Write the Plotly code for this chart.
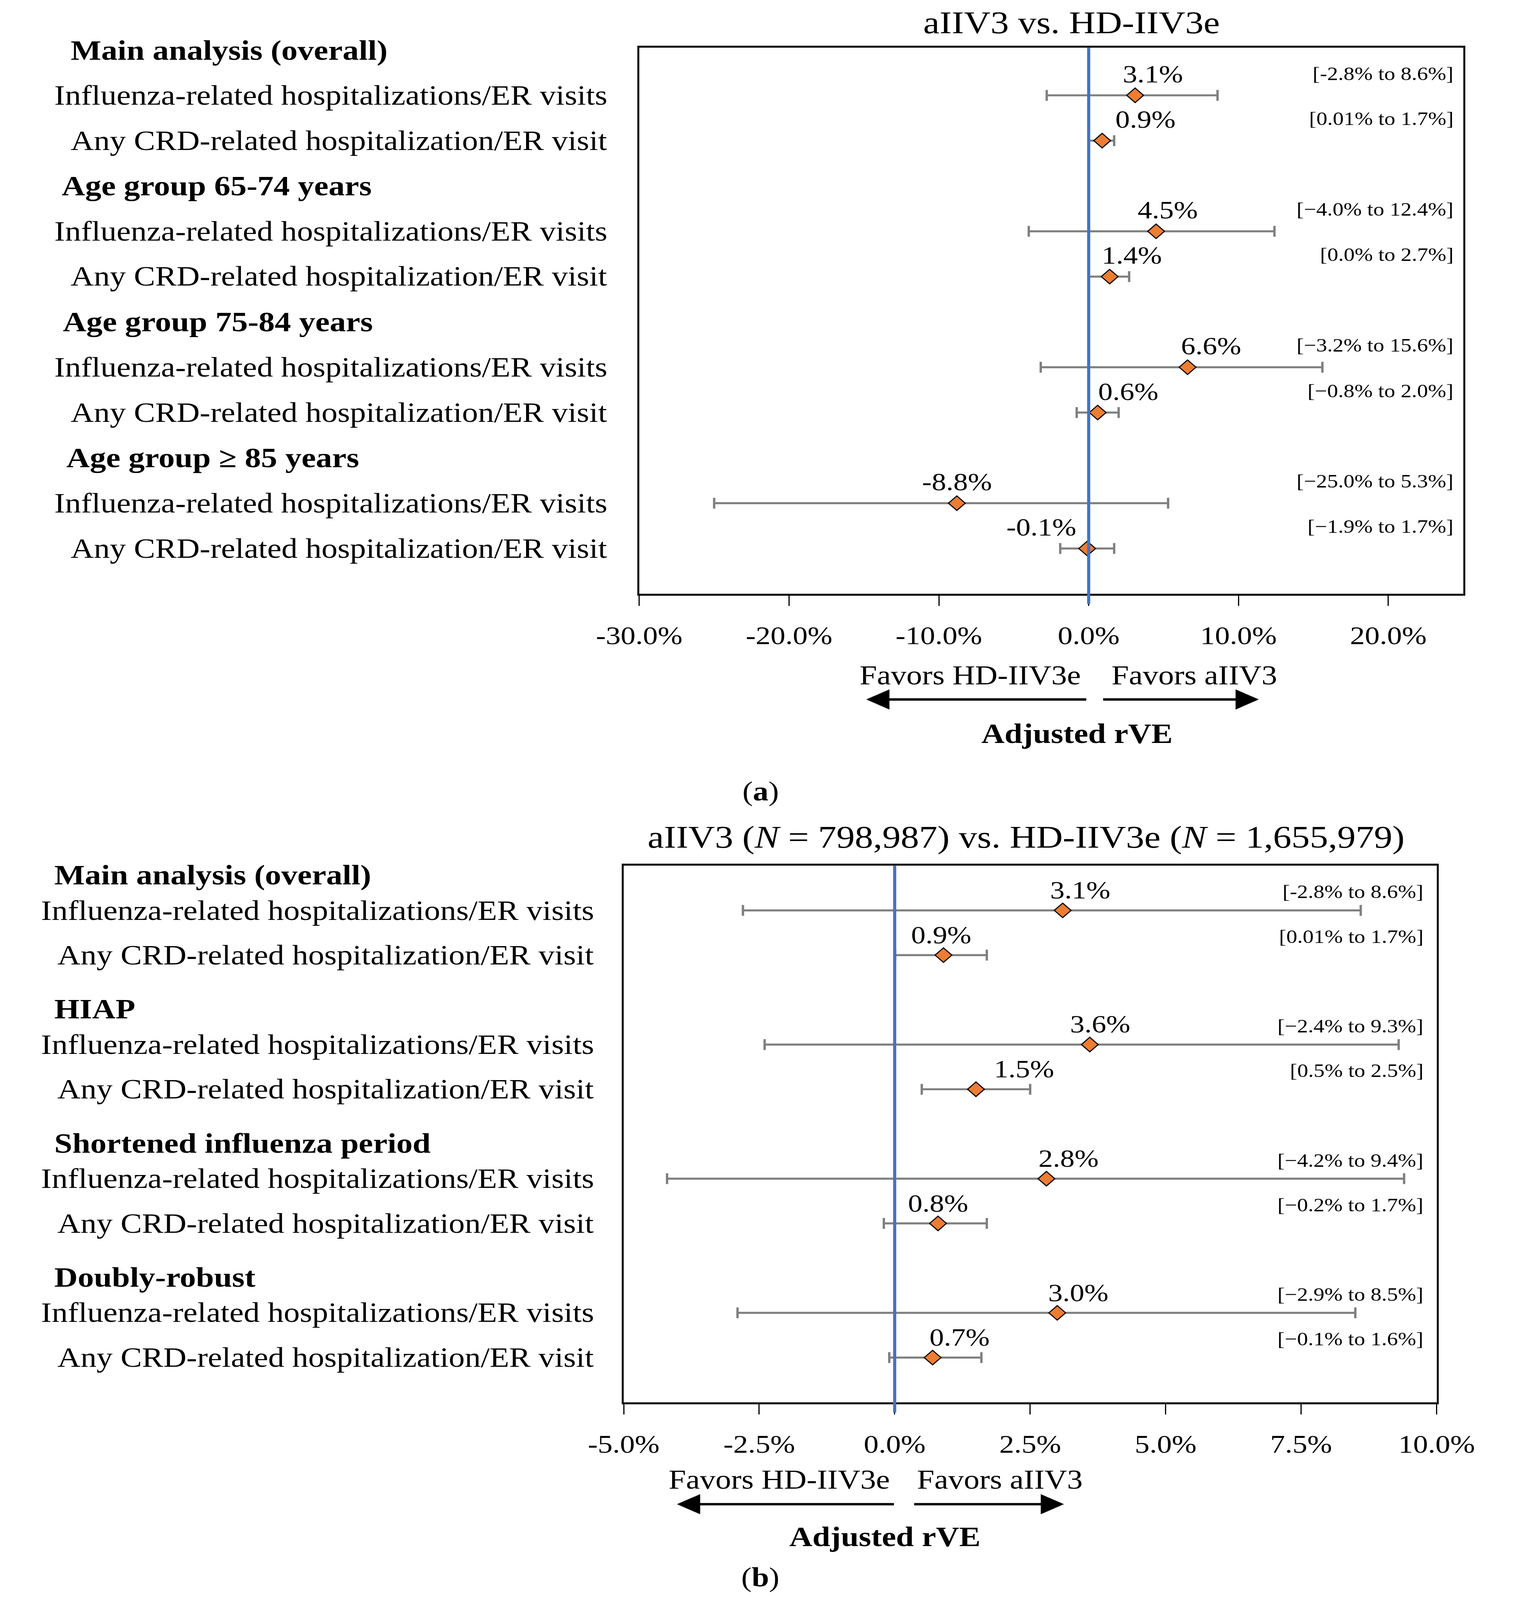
import plotly.graph_objects as go

W, H = 3910, 4726
FONT = "Liberation Serif"

# ---------------- data ----------------
outcomes = ["Influenza-related hospitalizations/ER visits",
            "Any CRD-related hospitalization/ER visit"]

a_title = "aIIV3 vs. HD-IIV3e"
a_headings = ["Main analysis (overall)", "Age group 65-74 years",
              "Age group 75-84 years", "Age group \u2265 85 years"]
a_est = [3.1, 0.9, 4.5, 1.4, 6.6, 0.6, -8.8, -0.1]
a_lo = [-2.8, 0.01, -4.0, 0.0, -3.2, -0.8, -25.0, -1.9]
a_hi = [8.6, 1.7, 12.4, 2.7, 15.6, 2.0, 5.3, 1.7]
a_ci_text = ["[-2.8% to 8.6%]", "[0.01% to 1.7%]", "[\u22124.0% to 12.4%]", "[0.0% to 2.7%]",
             "[\u22123.2% to 15.6%]", "[\u22120.8% to 2.0%]", "[\u221225.0% to 5.3%]",
             "[\u22121.9% to 1.7%]"]
a_ticks = [-30, -20, -10, 0, 10, 20]
a_tick_text = ["-30.0%", "-20.0%", "-10.0%", "0.0%", "10.0%", "20.0%"]

b_title = "aIIV3 (<i>N</i> = 798,987) vs. HD-IIV3e (<i>N</i> = 1,655,979)"
b_headings = ["Main analysis (overall)", "HIAP", "Shortened influenza period", "Doubly-robust"]
b_est = [3.1, 0.9, 3.6, 1.5, 2.8, 0.8, 3.0, 0.7]
b_lo = [-2.8, 0.01, -2.4, 0.5, -4.2, -0.2, -2.9, -0.1]
b_hi = [8.6, 1.7, 9.3, 2.5, 9.4, 1.7, 8.5, 1.6]
b_ci_text = ["[-2.8% to 8.6%]", "[0.01% to 1.7%]", "[\u22122.4% to 9.3%]", "[0.5% to 2.5%]",
             "[\u22124.2% to 9.4%]", "[\u22120.2% to 1.7%]", "[\u22122.9% to 8.5%]",
             "[\u22120.1% to 1.6%]"]
b_ticks = [-5, -2.5, 0, 2.5, 5, 7.5, 10]
b_tick_text = ["-5.0%", "-2.5%", "0.0%", "2.5%", "5.0%", "7.5%", "10.0%"]

favor_left = "Favors HD-IIV3e"
favor_right = "Favors aIIV3"
x_title = "Adjusted rVE"

# ---------------- styles / layout positions ----------------
ORANGE = "#ED7D31"
GREY = "#7F7F7F"
BLUE = "#4472C4"

a_label_dx = [45, 111, 30, 57, 60, 78, 0, -117]
b_label_dx = [45, -6, 27, 123, 57, 0, 54, 69]
a_head_x = [72, 48, 51, 60]

def px(x):
    return x / W

def py(y):
    return 1 - y / H

panels = [
    dict(title=a_title, headings=a_headings, est=a_est, lo=a_lo, hi=a_hi, ci=a_ci_text,
         ticks=a_ticks, ticktext=a_tick_text, rng=[-30, 25],
         xdom=[px(1612), px(3841)], ydom=[py(1754), py(141)], yrng=[12, -0.05],
         xa="x", ya="y", xov="x3", title_xy=(2782, 66), label_dx=a_label_dx,
         label_dy=63, ci_dy=65, ci_x=3817, lab_right=1528, head_x=a_head_x, head_dy=0,
         favL=(2508, 1994), favR=(3113, 1994), arrow_y=2066, arrL=(2226, 2791), arrR=(3288, 2888),
         xt=(2797, 2166), tag="(<b>a</b>)", tag_xy=(1940, 2337)),
    dict(title=b_title, headings=b_headings, est=b_est, lo=b_lo, hi=b_hi, ci=b_ci_text,
         ticks=b_ticks, ticktext=b_tick_text, rng=[-5, 10],
         xdom=[px(1570), px(3769)], ydom=[py(4142), py(2557)], yrng=[12, 0],
         xa="x2", ya="y2", xov="x4", title_xy=(2659, 2472), label_dx=b_label_dx,
         label_dy=60, ci_dy=55, ci_x=3736, lab_right=1492, head_x=[27, 27, 27, 27], head_dy=-27,
         favL=(1991, 4370), favR=(2587, 4370), arrow_y=4443, arrL=(1714, 2271), arrR=(2761, 2376),
         xt=(2277, 4539), tag="(<b>b</b>)", tag_xy=(1940, 4659)),
]

fig = go.Figure()
annotations = []
shapes = []
layout_axes = {}

for i, p in enumerate(panels):
    rows = []
    for g in range(len(p["headings"])):
        rows += [3 * g + 1, 3 * g + 2]
    est, lo, hi = p["est"], p["lo"], p["hi"]
    fig.add_trace(go.Scatter(
        x=est, y=rows, xaxis=p["xa"], yaxis=p["ya"], mode="markers",
        marker=dict(symbol="diamond", size=33, color=ORANGE, line=dict(color="black", width=3)),
        error_x=dict(type="data", symmetric=False,
                     array=[h - e for h, e in zip(hi, est)],
                     arrayminus=[e - l for e, l in zip(est, lo)],
                     color=GREY, thickness=6, width=16),
        hoverinfo="skip", showlegend=False))

    xa_name = "xaxis" if p["xa"] == "x" else "xaxis2"
    ya_name = "yaxis" if p["ya"] == "y" else "yaxis2"
    xov_name = "xaxis3" if p["xov"] == "x3" else "xaxis4"
    layout_axes[xa_name] = dict(
        domain=p["xdom"], range=p["rng"], anchor=p["ya"], tickmode="array",
        tickvals=p["ticks"], ticktext=p["ticktext"], ticks="outside", ticklen=30,
        tickwidth=3, tickcolor="black", showline=True, mirror=True, linewidth=6,
        linecolor="black", showgrid=False, zeroline=False,
        tickfont=dict(family=FONT, size=76, color="black"), ticklabelstandoff=22)
    layout_axes[ya_name] = dict(
        domain=p["ydom"], range=p["yrng"], anchor=p["xa"], showticklabels=False,
        ticks="", showline=True, mirror=True, linewidth=5, linecolor="black",
        showgrid=False, zeroline=False)
    layout_axes[xov_name] = dict(
        overlaying=p["xa"], anchor=p["ya"], range=p["rng"], tickmode="array",
        tickvals=p["ticks"], ticks="inside", ticklen=27, tickwidth=3, tickcolor="black",
        showticklabels=False, showline=False, showgrid=False, zeroline=False, side="bottom")

    shapes.append(dict(type="line", xref=p["xa"], yref="paper", x0=0, x1=0,
                       y0=p["ydom"][0] - 30 / H, y1=p["ydom"][1],
                       line=dict(color=BLUE, width=8), layer="above"))

    annotations.append(dict(text=p["title"], x=px(p["title_xy"][0]), y=py(p["title_xy"][1]),
                            xref="paper", yref="paper", showarrow=False, xanchor="center",
                            yanchor="middle", font=dict(family=FONT, size=94, color="black")))
    for g, h in enumerate(p["headings"]):
        annotations.append(dict(text="<b>" + h + "</b>", x=px(p["head_x"][g]), y=3 * g,
                                xref="paper", yref=p["ya"], showarrow=False, xanchor="left",
                                yanchor="middle", yshift=p["head_dy"],
                                font=dict(family=FONT, size=83, color="black")))
        for k, o in enumerate(outcomes):
            annotations.append(dict(text=o, x=px(p["lab_right"]), y=3 * g + 1 + k,
                                    xref="paper", yref=p["ya"], showarrow=False,
                                    xanchor="right", yanchor="middle",
                                    font=dict(family=FONT, size=82, color="black")))
    for j, (e, r) in enumerate(zip(est, rows)):
        annotations.append(dict(text=f"{e:.1f}%", x=e, y=r, xref=p["xa"], yref=p["ya"],
                                xshift=p["label_dx"][j], yshift=p["label_dy"], showarrow=False,
                                xanchor="center", yanchor="middle",
                                font=dict(family=FONT, size=74, color="black")))
        annotations.append(dict(text=p["ci"][j], x=px(p["ci_x"]), y=r, xref="paper",
                                yref=p["ya"], yshift=p["ci_dy"], showarrow=False,
                                xanchor="right", yanchor="middle",
                                font=dict(family=FONT, size=56, color="black")))
    for txt, (fx, fy) in [(favor_left, p["favL"]), (favor_right, p["favR"])]:
        annotations.append(dict(text=txt, x=px(fx), y=py(fy), xref="paper", yref="paper",
                                showarrow=False, xanchor="center", yanchor="middle",
                                font=dict(family=FONT, size=80, color="black")))
    for head, tail in [p["arrL"], p["arrR"]]:
        annotations.append(dict(text="", x=px(head), y=py(p["arrow_y"]), xref="paper",
                                yref="paper", showarrow=True, ax=tail - head, ay=0,
                                arrowhead=2, arrowsize=1.7, arrowwidth=7, arrowcolor="black"))
    annotations.append(dict(text="<b>" + x_title + "</b>", x=px(p["xt"][0]), y=py(p["xt"][1]),
                            xref="paper", yref="paper", showarrow=False, xanchor="center",
                            yanchor="middle", font=dict(family=FONT, size=82, color="black")))
    annotations.append(dict(text=p["tag"], x=px(p["tag_xy"][0]), y=py(p["tag_xy"][1]),
                            xref="paper", yref="paper", showarrow=False, xanchor="center",
                            yanchor="middle", font=dict(family=FONT, size=80, color="black")))

fig.update_layout(width=W, height=H, margin=dict(l=0, r=0, t=0, b=0, pad=0),
                  paper_bgcolor="white", plot_bgcolor="white", showlegend=False,
                  annotations=annotations, shapes=shapes, **layout_axes)

# remove page margin; if the viewport is smaller than the figure, scale it to fit
fit_js = """
document.documentElement.style.margin = '0';
document.body.style.margin = '0';
document.body.style.padding = '0';
document.documentElement.style.overflow = 'hidden';
document.body.style.overflow = 'hidden';
var gd = document.getElementById('{plot_id}');
var sx = window.innerWidth / %d, sy = window.innerHeight / %d;
if (sx < 1 || sy < 1) {
  gd.style.transformOrigin = '0 0';
  gd.style.transform = 'scale(' + Math.min(sx, 1) + ',' + Math.min(sy, 1) + ')';
}
""" % (W, H)

fig.write_html("out.html", post_script=fit_js, config={"displayModeBar": False})
